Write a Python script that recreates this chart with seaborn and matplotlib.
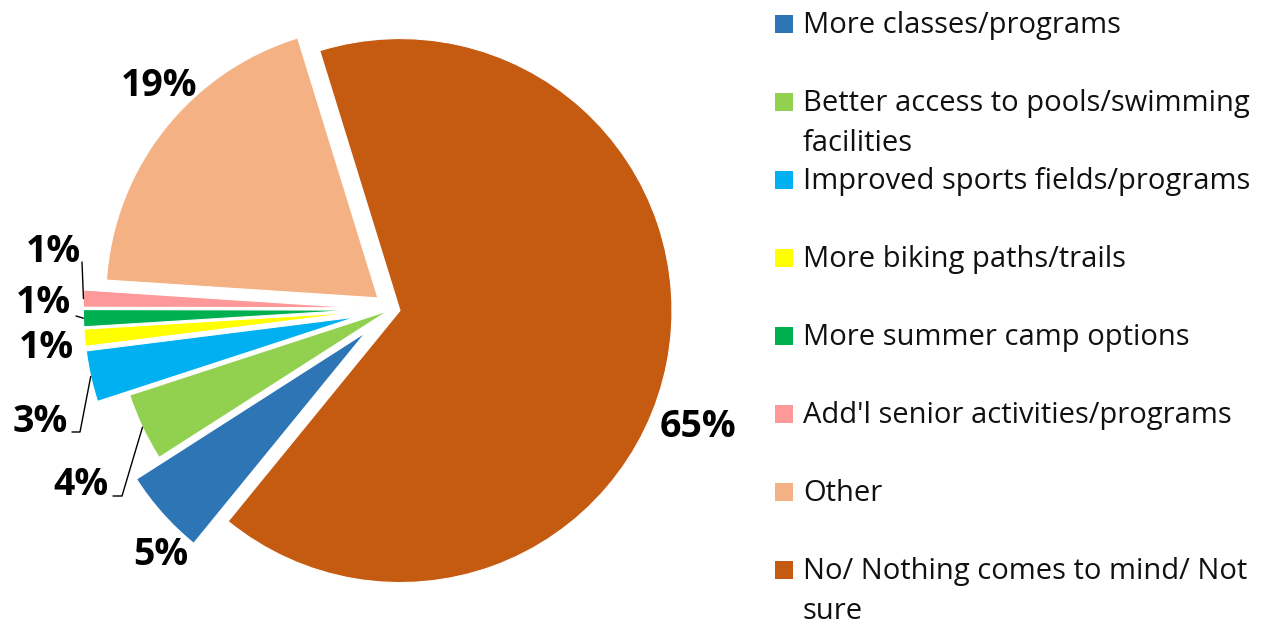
import matplotlib
matplotlib.use("Agg")
import matplotlib.pyplot as plt
import seaborn as sns
import numpy as np
from matplotlib.patches import Rectangle

# ---------------- data ----------------
categories = [
    "More classes/programs",
    "Better access to pools/swimming\nfacilities",
    "Improved sports fields/programs",
    "More biking paths/trails",
    "More summer camp options",
    "Add'l senior activities/programs",
    "Other",
    "No/ Nothing comes to mind/ Not\nsure",
]
values = [5, 4, 3, 1, 1, 1, 19, 65]
pct_labels = ["5%", "4%", "3%", "1%", "1%", "1%", "19%", "65%"]
colors = ["#2E75B6", "#92D050", "#00B0F0", "#FFFF00", "#00B050",
          "#FF9999", "#F4B183", "#C55A11"]

# ---------------- style / layout ----------------
explode = [0.13, 0.015, 0.135, 0.135, 0.135, 0.135, 0.066, 0.03]
# label anchor (pixel: x centre, y baseline)
label_px = [(161, 565), (81, 495), (40, 432), (46, 358), (43, 313),
            (53, 262), (159, 96), (698, 437)]
# leader line start points (pixels), None = no leader
leader_px = [None,
             [(113, 496), (122, 496)],
             [(72, 432), (80, 432)],
             None,
             [(76, 316)],
             [(82, 262)],
             None, None]

sns.set_theme(style="white")
plt.rcParams['font.family'] = ['Open Sans', 'DejaVu Sans']

W, H = 1277, 629
fig = plt.figure(figsize=(W / 100, H / 100), dpi=100)
fig.patch.set_facecolor("white")
CX, CY, R = 392, 309, 272
AXW = 760
ax = fig.add_axes([0, 0, AXW / W, 1])
wedges, _ = ax.pie(values, colors=colors, explode=explode,
                   startangle=230.8, counterclock=False, radius=1,
                   wedgeprops=dict(edgecolor="white", linewidth=0.8))
ax.set_aspect("auto")
ax.set_xlim(-CX / R, (AXW - CX) / R)
ax.set_ylim((CY - H) / R, CY / R)
ax.axis("off")


def px2d(p):
    return ((p[0] - CX) / R, (CY - p[1]) / R)


for i, w in enumerate(wedges):
    lx, ly = px2d(label_px[i])
    ax.text(lx, ly, pct_labels[i], ha="center", va="baseline",
            fontsize=27, fontweight="bold", color="black")
    if leader_px[i] is not None:
        theta = np.deg2rad((w.theta1 + w.theta2) / 2)
        ex = w.center[0] + w.r * np.cos(theta)
        ey = w.center[1] + w.r * np.sin(theta)
        pts = [px2d(p) for p in leader_px[i]] + [(ex, ey)]
        xs, ys = zip(*pts)
        ax.plot(xs, ys, color="black", lw=1)

# ---------------- legend ----------------
step = 78.0
line_gap = 40
for i, (lab, col) in enumerate(zip(categories, colors)):
    yc = 24 + i * step
    fig.patches.append(Rectangle((775 / W, 1 - (yc + 9) / H), 18 / W, 18 / H,
                                 transform=fig.transFigure, facecolor=col,
                                 edgecolor="none"))
    for k, line in enumerate(lab.split("\n")):
        fig.text(803 / W, 1 - (yc + 9 + k * line_gap) / H, line,
                 ha="left", va="baseline", fontsize=21, color="#111111")

fig.savefig("out.png", dpi=100, facecolor="white")
